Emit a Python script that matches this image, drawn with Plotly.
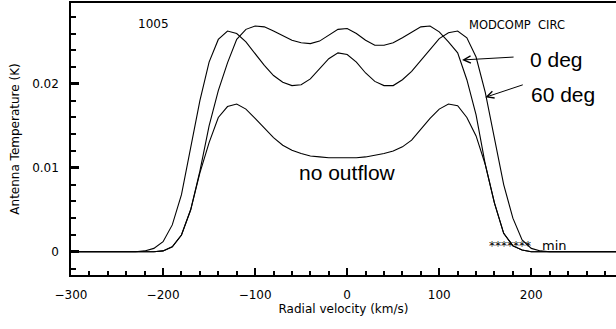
import plotly.graph_objects as go

velocity = list(range(-300, 301, 10))

t_60deg = [0, 0, 0, 0, 0, 0, 0, 0,
           0.0001, 0.0004, 0.0012, 0.0032, 0.0068, 0.0122, 0.0180, 0.0226, 0.0253, 0.0263,
           0.0260, 0.0250, 0.0236, 0.0222, 0.0210, 0.0202, 0.0198, 0.0199, 0.0206, 0.0218,
           0.0230, 0.0237, 0.0235, 0.0226, 0.0213, 0.0203, 0.0198, 0.0198, 0.0205, 0.0215,
           0.0228, 0.0242, 0.0254, 0.0261, 0.0263, 0.0255, 0.0232, 0.0190, 0.0135, 0.0080,
           0.0040, 0.0014, 0.0004, 0.0001,
           0, 0, 0, 0, 0, 0, 0, 0, 0]

t_0deg = [0, 0, 0, 0, 0, 0, 0, 0, 0, 0,
          0.0001, 0.0006, 0.0020, 0.0050, 0.0096, 0.0150, 0.0192, 0.0225, 0.0253, 0.0265,
          0.0269, 0.0268, 0.0263, 0.0257, 0.0252, 0.0249, 0.0248, 0.0251, 0.0258, 0.0265,
          0.0266, 0.0260, 0.0252, 0.0246, 0.0246, 0.0249, 0.0255, 0.0262, 0.0268, 0.0269,
          0.0262, 0.0250, 0.0237, 0.0205, 0.0163, 0.0104, 0.0058, 0.0022, 0.0007, 0.0002,
          0, 0, 0, 0, 0, 0, 0, 0, 0, 0, 0]

t_no_outflow = [0, 0, 0, 0, 0, 0, 0, 0, 0, 0,
                0.0001, 0.0006, 0.0020, 0.0050, 0.0094, 0.0130, 0.0160, 0.0173, 0.0176, 0.0170,
                0.0159, 0.0147, 0.0136, 0.0127, 0.0121, 0.0117, 0.0114, 0.0113, 0.0112, 0.0112,
                0.0112, 0.0112, 0.0113, 0.0115, 0.0117, 0.0120, 0.0125, 0.0133, 0.0146, 0.0159,
                0.0170, 0.0176, 0.0174, 0.0160, 0.0138, 0.0104, 0.0058, 0.0022, 0.0007, 0.0002,
                0, 0, 0, 0, 0, 0, 0, 0, 0, 0, 0]

series = [("60 deg", t_60deg), ("0 deg", t_0deg), ("no outflow", t_no_outflow)]

FONT = "DejaVu Sans"
fig = go.Figure()
for name, vals in series:
    fig.add_trace(go.Scatter(x=velocity, y=vals, mode="lines", name=name,
                             line=dict(color="black", width=1.1), showlegend=False))

ann = []
ann.append(dict(x=-210.3, y=0.0271, text="1005", showarrow=False,
                font=dict(family=FONT, size=12, color="black"), xanchor="center", yanchor="middle"))
ann.append(dict(x=129.9, y=0.0270, text="MODCOMP  CIRC", showarrow=False,
                font=dict(family=FONT, size=11.5, color="black"), xanchor="left", yanchor="middle"))
ann.append(dict(x=196.2, y=0.0229, text="0 deg", showarrow=False,
                font=dict(family="Liberation Sans", size=21, color="black"), xanchor="left", yanchor="middle"))
ann.append(dict(x=197.3, y=0.01871, text="60 deg", showarrow=False,
                font=dict(family="Liberation Sans", size=21, color="black"), xanchor="left", yanchor="middle"))
ann.append(dict(x=0.5, y=0.00949, text="no outflow", showarrow=False,
                font=dict(family="Liberation Sans", size=21, color="black"), xanchor="center", yanchor="middle"))
ann.append(dict(x=151.6, y=0.0007, text="*******", showarrow=False,
                font=dict(family=FONT, size=12, color="black"), xanchor="left", yanchor="middle"))
ann.append(dict(x=209.5, y=0.0007, text="min", showarrow=False,
                font=dict(family=FONT, size=13, color="black"), xanchor="left", yanchor="middle"))
# arrows
ann.append(dict(x=124.8, y=0.02285, text="", showarrow=True, ax=53, ay=-3,
                arrowhead=5, arrowsize=1.4, arrowwidth=1, arrowcolor="black"))
ann.append(dict(x=150.0, y=0.0184, text="", showarrow=True, ax=39, ay=-13,
                arrowhead=5, arrowsize=1.4, arrowwidth=1, arrowcolor="black"))

fig.update_layout(
    width=616, height=329,
    margin=dict(l=71, r=0, t=3, b=54),
    paper_bgcolor="white", plot_bgcolor="white",
    font=dict(family=FONT, size=12, color="black"),
    annotations=ann,
)
fig.update_xaxes(
    range=[-300, 292], showgrid=False, zeroline=False,
    showline=True, linecolor="black", linewidth=1.5, mirror=True,
    ticks="inside", ticklen=7, tickwidth=2, tickcolor="black",
    dtick=100, tick0=0,
    minor=dict(dtick=20, ticks="inside", ticklen=4, tickwidth=1.6, tickcolor="black", showgrid=False),
    tickfont=dict(family=FONT, size=12), ticklabelstandoff=8,
    title=dict(text="Radial velocity (km/s)", font=dict(family=FONT, size=12), standoff=2),
)
fig.update_yaxes(
    range=[-0.00277, 0.02964], showgrid=False, zeroline=False,
    showline=True, linecolor="black", linewidth=1.5, mirror=False,
    ticks="inside", ticklen=8, tickwidth=2.6, tickcolor="black",
    dtick=0.01, tick0=0,
    minor=dict(dtick=0.002, ticks="inside", ticklen=5, tickwidth=2.2, tickcolor="black", showgrid=False),
    tickfont=dict(family=FONT, size=12), ticklabelstandoff=8,
    title=dict(text="Antenna Temperature (K)", font=dict(family=FONT, size=12), standoff=10),
)

fig.write_html("out.html")
